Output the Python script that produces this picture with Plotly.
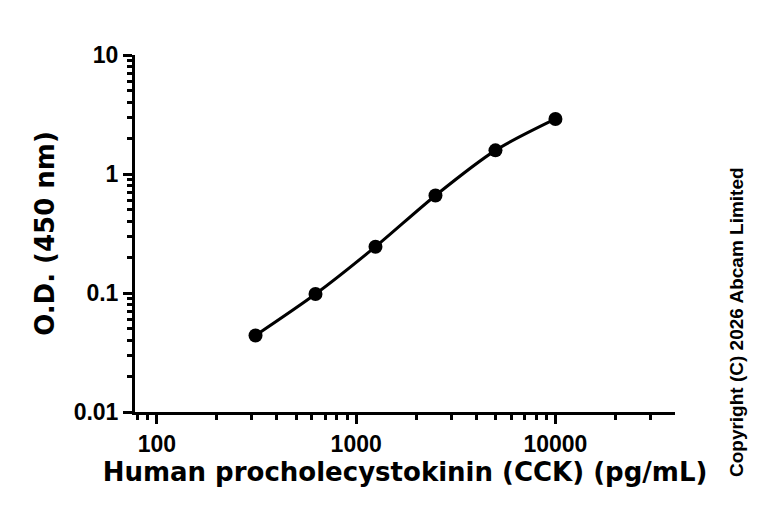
import plotly.graph_objects as go

# standard curve data
conc = [312.5, 625, 1250, 2500, 5000, 10000]
od = [0.044, 0.098, 0.245, 0.66, 1.58, 2.9]

x_ticks = [100, 1000, 10000]
x_labels = ["100", "1000", "10000"]
y_ticks = [0.01, 0.1, 1, 10]
y_labels = ["0.01", "0.1", "1", "10"]

x_minor = [80, 90] + [m * d for d in (100, 1000) for m in range(2, 10)] + [20000, 30000]
y_minor = [m * d for d in (0.01, 0.1, 1) for m in range(2, 10)]

fig = go.Figure()

# fitted curve (smoothed through the points)
fig.add_trace(go.Scatter(x=conc, y=od, mode="lines",
                         line=dict(color="black", width=3, shape="spline", smoothing=0.8),
                         hoverinfo="skip"))
fig.add_trace(go.Scatter(x=conc, y=od, mode="markers",
                         marker=dict(color="black", size=14)))

tick_font = dict(family="Liberation Sans", size=23, color="black", weight="bold")
title_font = dict(family="DejaVu Sans", size=26, color="black", weight="bold")

fig.update_xaxes(type="log", range=[1.89, 4.6],
                 tickvals=x_ticks, ticktext=x_labels,
                 ticks="outside", ticklen=9, tickwidth=3, tickcolor="black",
                 minor=dict(tickvals=x_minor, ticks="outside", ticklen=5, tickwidth=3, tickcolor="black"),
                 showline=True, linewidth=3, linecolor="black",
                 showgrid=False, zeroline=False, tickfont=tick_font,
                 title=dict(text="Human procholecystokinin (CCK) (pg/mL)", font=title_font, standoff=6))

fig.update_yaxes(type="log", range=[-2, 1],
                 tickvals=y_ticks, ticktext=y_labels,
                 ticks="outside", ticklen=9, tickwidth=3, tickcolor="black",
                 minor=dict(tickvals=y_minor, ticks="outside", ticklen=5, tickwidth=3, tickcolor="black"),
                 showline=True, linewidth=3, linecolor="black",
                 showgrid=False, zeroline=False, tickfont=tick_font,
                 title=dict(text="O.D. (450 nm)", font=title_font, standoff=12))

fig.add_annotation(text="Copyright (C) 2026 Abcam Limited", xref="paper", yref="paper",
                   x=1.113, y=0.252, xanchor="center", yanchor="middle",
                   textangle=-90, showarrow=False,
                   font=dict(family="Liberation Sans", size=19, color="black", weight="bold"))

# page adds an 8px body margin, so margins are trimmed by 8 on the left/top
fig.update_layout(width=768, height=521, showlegend=False,
                  plot_bgcolor="white", paper_bgcolor="white",
                  margin=dict(l=127, r=101, t=47, b=117))

fig.write_html("out.html")
